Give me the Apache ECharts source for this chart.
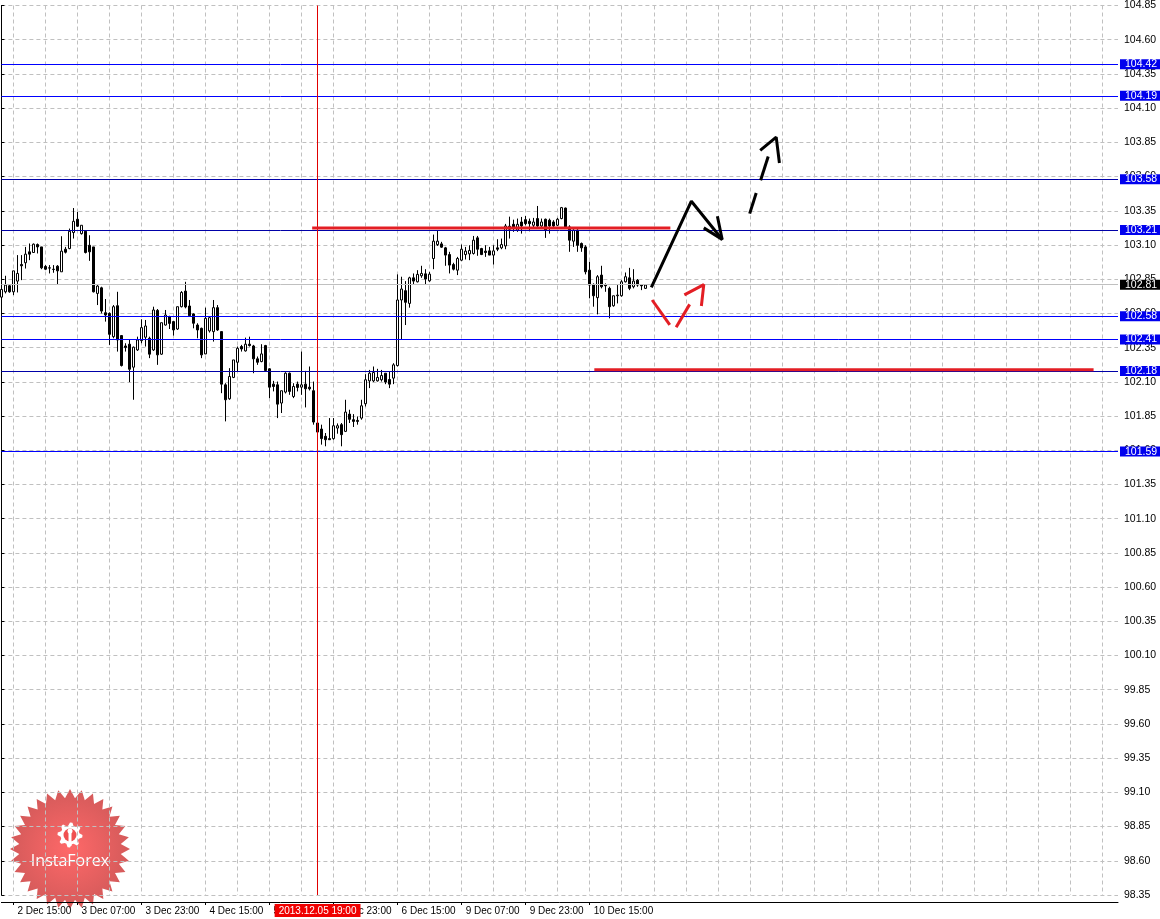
<!DOCTYPE html>
<html>
<head>
<meta charset="utf-8">
<title>USDJPY H1</title>
<script src="https://cdn.jsdelivr.net/npm/echarts@6/dist/echarts.min.js"></script>
<style>
  html, body { margin: 0; padding: 0; background: #fff; }
  #chart { width: 1160px; height: 919px; }
</style>
</head>
<body>
<div id="chart"></div>
<script>
// hourly candles, first bar is 2 Dec 2013 12:00
const opens = [
  102.719, 102.758, 102.802, 102.758, 102.836, 102.957, 102.970, 103.050, 103.045, 103.103,
  103.086, 102.943, 102.933, 102.923, 102.945, 102.904, 103.069, 103.074, 103.191, 103.288,
  103.183, 103.200, 103.098, 103.086, 102.746, 102.787, 102.605, 102.600, 102.430, 102.656,
  102.438, 102.362, 102.375, 102.207, 102.333, 102.401, 102.426, 102.418, 102.333, 102.622,
  102.302, 102.515, 102.576, 102.540, 102.486, 102.649, 102.763, 102.654, 102.596, 102.515,
  102.491, 102.304, 102.472, 102.467, 102.642, 102.467, 102.078, 101.976, 102.132, 102.243,
  102.358, 102.326, 102.375, 102.362, 102.268, 102.248, 102.365, 102.195, 102.083, 102.078,
  101.945, 102.025, 102.163, 101.993, 102.083, 102.061, 102.083, 102.061, 102.035, 101.799,
  101.755, 101.702, 101.685, 101.685, 101.762, 101.787, 101.738, 101.864, 101.823, 101.818,
  101.835, 101.940, 102.107, 102.107, 102.107, 102.115, 102.163, 102.117, 102.127, 102.219,
  102.698, 102.766, 102.673, 102.860, 102.831, 102.875, 102.889, 102.838, 103.001, 103.103,
  103.108, 103.079, 103.030, 102.957, 102.916, 102.989, 103.030, 103.035, 103.038, 103.152,
  103.074, 103.055, 103.057, 103.026, 103.079, 103.079, 103.093, 103.237, 103.251, 103.208,
  103.268, 103.285, 103.273, 103.244, 103.293, 103.239, 103.288, 103.281, 103.268, 103.244,
  103.293, 103.370, 103.232, 103.128, 103.208, 103.111, 103.086, 102.916, 102.812, 102.715,
  102.880, 102.807, 102.783, 102.656, 102.729, 102.729, 102.831, 102.860, 102.795, 102.843,
  102.807, 102.783
];
const closes = [
  102.775, 102.807, 102.758, 102.911, 102.892, 102.948, 103.033, 103.033, 103.106, 103.086,
  102.933, 102.923, 102.931, 102.921, 102.911, 103.055, 103.047, 103.200, 103.273, 103.237,
  103.244, 103.045, 103.050, 102.758, 102.800, 102.617, 102.588, 102.447, 102.649, 102.406,
  102.219, 102.350, 102.192, 102.353, 102.406, 102.496, 102.508, 102.302, 102.625, 102.297,
  102.532, 102.588, 102.527, 102.479, 102.649, 102.753, 102.647, 102.583, 102.528, 102.479,
  102.297, 102.564, 102.569, 102.642, 102.479, 102.083, 101.969, 102.139, 102.260, 102.345,
  102.340, 102.375, 102.365, 102.268, 102.243, 102.304, 102.183, 102.061, 102.066, 101.937,
  102.035, 102.163, 102.030, 102.066, 102.059, 102.078, 102.049, 102.049, 101.806, 101.733,
  101.685, 101.677, 101.677, 101.779, 101.779, 101.714, 101.879, 101.826, 101.811, 101.811,
  101.925, 102.115, 102.163, 102.168, 102.132, 102.146, 102.098, 102.083, 102.224, 102.698,
  102.778, 102.681, 102.860, 102.836, 102.885, 102.892, 102.851, 102.887, 103.128, 103.128,
  103.084, 103.026, 102.953, 102.923, 103.001, 103.069, 103.055, 103.060, 103.135, 103.069,
  103.030, 103.045, 103.026, 103.057, 103.069, 103.103, 103.239, 103.215, 103.225, 103.251,
  103.239, 103.256, 103.256, 103.268, 103.239, 103.268, 103.208, 103.239, 103.239, 103.288,
  103.373, 103.232, 103.135, 103.208, 103.098, 103.079, 102.904, 102.807, 102.729, 102.868,
  102.795, 102.802, 102.649, 102.729, 102.734, 102.831, 102.868, 102.783, 102.836, 102.807,
  102.802, 102.807
];
const lows = [
  102.637, 102.746, 102.751, 102.734, 102.753, 102.843, 102.928, 102.989, 103.042, 103.038,
  102.923, 102.916, 102.892, 102.897, 102.812, 102.904, 103.038, 103.069, 103.147, 103.232,
  103.176, 103.038, 102.984, 102.753, 102.661, 102.600, 102.540, 102.370, 102.418, 102.321,
  102.212, 102.321, 102.098, 101.969, 102.326, 102.382, 102.358, 102.273, 102.326, 102.224,
  102.297, 102.511, 102.486, 102.438, 102.479, 102.644, 102.637, 102.583, 102.491, 102.418,
  102.273, 102.302, 102.460, 102.394, 102.472, 102.017, 101.811, 101.969, 102.127, 102.175,
  102.321, 102.321, 102.358, 102.163, 102.224, 102.243, 102.175, 101.981, 102.030, 101.835,
  101.872, 102.015, 102.005, 101.981, 102.030, 102.005, 101.913, 102.037, 101.787, 101.617,
  101.641, 101.629, 101.677, 101.677, 101.721, 101.629, 101.733, 101.799, 101.770, 101.787,
  101.823, 101.920, 102.054, 102.098, 102.102, 102.102, 102.083, 102.054, 102.083, 102.212,
  102.406, 102.515, 102.642, 102.812, 102.826, 102.860, 102.812, 102.831, 102.923, 103.093,
  103.079, 102.948, 102.892, 102.914, 102.880, 102.982, 102.994, 102.989, 103.030, 103.021,
  103.026, 103.013, 103.026, 102.957, 103.055, 103.069, 103.069, 103.147, 103.196, 103.196,
  103.183, 103.244, 103.200, 103.220, 103.232, 103.232, 103.152, 103.183, 103.232, 103.239,
  103.288, 103.227, 103.050, 103.086, 103.050, 103.050, 102.885, 102.710, 102.649, 102.593,
  102.783, 102.758, 102.564, 102.649, 102.673, 102.722, 102.826, 102.770, 102.783, 102.795,
  102.770, 102.778
];
const highs = [
  102.807, 102.875, 102.807, 102.911, 103.026, 103.026, 103.086, 103.111, 103.111, 103.111,
  103.086, 102.953, 102.953, 102.953, 102.953, 103.164, 103.086, 103.220, 103.370, 103.341,
  103.244, 103.208, 103.171, 103.086, 102.807, 102.795, 102.705, 102.608, 102.661, 102.758,
  102.442, 102.382, 102.406, 102.358, 102.430, 102.557, 102.552, 102.430, 102.649, 102.632,
  102.532, 102.625, 102.583, 102.545, 102.649, 102.763, 102.831, 102.698, 102.600, 102.528,
  102.496, 102.642, 102.574, 102.698, 102.661, 102.467, 102.090, 102.200, 102.260, 102.358,
  102.370, 102.423, 102.430, 102.370, 102.285, 102.375, 102.370, 102.200, 102.107, 102.102,
  102.035, 102.170, 102.168, 102.090, 102.102, 102.321, 102.180, 102.212, 102.102, 101.877,
  101.787, 101.726, 101.835, 101.835, 101.796, 101.799, 101.969, 101.896, 101.864, 101.847,
  101.969, 102.156, 102.187, 102.212, 102.195, 102.187, 102.163, 102.175, 102.236, 102.885,
  102.868, 102.836, 102.868, 102.892, 102.916, 102.948, 102.923, 102.904, 103.176, 103.208,
  103.123, 103.086, 103.050, 102.970, 103.013, 103.103, 103.086, 103.098, 103.166, 103.166,
  103.079, 103.098, 103.086, 103.098, 103.142, 103.147, 103.254, 103.307, 103.285, 103.293,
  103.305, 103.312, 103.293, 103.298, 103.385, 103.293, 103.293, 103.293, 103.281, 103.298,
  103.378, 103.373, 103.244, 103.215, 103.215, 103.118, 103.098, 102.977, 102.819, 102.880,
  102.948, 102.819, 102.795, 102.729, 102.807, 102.843, 102.899, 102.933, 102.923, 102.851,
  102.812, 102.812
];

// horizontal levels drawn on the chart
const levels = [104.42, 104.19, 103.58, 103.21, 102.58, 102.41, 102.18, 101.59];
const levelColors = ['#0000ff', '#0000ff', '#0000a8', '#0000a8', '#0000ff', '#0000ff', '#0000a8', '#0000ff'];
const bidPrice = 102.81;
const cursorBar = 79;
const cursorLabel = '2013.12.05 19:00';

// price axis ticks
const yMin = 98.35;
const yMax = 104.85;
const yStep = 0.25;

// hand drawn marks, [bar index, price]
const redResistance = [[77.65, 103.225], [167.15, 103.225]];
const redSupport = [[148.15, 102.188], [272.9, 102.188]];
const blackUpMove = [[162.4, 102.79], [172.4, 103.42], [180.1, 103.14]];
const blackUpHead = [[175.5, 103.225], [180.1, 103.14], [178.9, 103.31]];
const blackDash1 = [[186.97, 103.329], [188.6, 103.48]];
const blackDash2 = [[189.7, 103.573], [191.6, 103.747]];
const blackDashHead = [[189.6, 103.791], [193.6, 103.888], [194.4, 103.699]];
const redDash1 = [[162.6, 102.698], [167.0, 102.516]];
const redDash2 = [[168.6, 102.498], [171.97, 102.666]];
const redHead = [[170.65, 102.735], [175.5, 102.81], [174.9, 102.654]];

// time axis: one slot per trading hour, empty slots to the right
const totalSlots = 280;
const months = ['Jan', 'Feb', 'Mar', 'Apr', 'May', 'Jun', 'Jul', 'Aug', 'Sep', 'Oct', 'Nov', 'Dec'];
const categories = [];
let t = Date.UTC(2013, 11, 2, 12);
while (categories.length < totalSlots) {
  const d = new Date(t);
  const wd = d.getUTCDay();
  if (wd !== 0 && wd !== 6) {
    categories.push(d.getUTCDate() + ' ' + months[d.getUTCMonth()] + ' ' +
      String(d.getUTCHours()).padStart(2, '0') + ':00');
  }
  t += 3600000;
}

// time labels only under real bars, grid every 8 slots
const labelEvery = (i) => i < opens.length && (i - 3) % 16 === 0;
const gridEvery = (i) => (i - 3) % 8 === 0;
const gridLine = { color: '#c0c0c0', type: [4, 3], width: 1 };
const axisFont = '"Liberation Sans Narrow", "Liberation Sans"';

function stroke(points, color, width) {
  return {
    type: 'line',
    xAxisIndex: 1,
    data: points,
    symbol: 'none',
    silent: true,
    z: 5,
    lineStyle: { color: color, width: width, cap: 'butt' }
  };
}

// logo badge
const star = [];
for (let k = 0; k < 64; k++) {
  const r = k % 2 ? 51 : 60;
  const a = Math.PI * k / 32 - Math.PI / 2;
  star.push([70 + r * Math.cos(a), 849 + r * Math.sin(a)]);
}
const gear = [];
for (let k = 0; k < 32; k++) {
  const r = (k % 4 < 2) ? 12.5 : 9.5;
  const a = Math.PI * 2 * k / 32;
  gear.push([70 + r * Math.cos(a), 835 + r * Math.sin(a)]);
}

const chart = echarts.init(document.getElementById('chart'));
chart.setOption({
  animation: false,
  backgroundColor: '#fff',
  textStyle: { fontFamily: axisFont },
  grid: { left: 1.4, right: 42, top: 3, bottom: 24 },
  xAxis: [
    {
      type: 'category',
      data: categories,
      boundaryGap: false,
      offset: 7,
      axisLine: { lineStyle: { color: '#000', width: 1 } },
      axisTick: { interval: labelEvery, length: 3, lineStyle: { color: '#000' } },
      axisLabel: {
        interval: labelEvery, align: 'left', padding: [0, 0, 0, 4],
        color: '#000', fontSize: 10, fontFamily: axisFont, margin: 4
      },
      splitLine: { show: true, interval: gridEvery, lineStyle: gridLine }
    },
    { type: 'value', min: 0, max: totalSlots - 1, show: false }
  ],
  yAxis: {
    type: 'value',
    position: 'right',
    min: yMin,
    max: yMax,
    interval: yStep,
    axisLine: { show: true, lineStyle: { color: '#000' } },
    axisTick: { show: true, length: 3, lineStyle: { color: '#000' } },
    axisLabel: {
      color: '#000', fontSize: 10.5, fontFamily: axisFont, margin: 6,
      formatter: (v) => v.toFixed(2)
    },
    splitLine: { lineStyle: gridLine }
  },
  series: [
    {
      type: 'candlestick',
      data: opens.map((o, i) => [o, closes[i], lows[i], highs[i]]),
      barWidth: 3,
      itemStyle: {
        color: '#fff', color0: '#000',
        borderColor: '#000', borderColor0: '#000', borderWidth: 1
      },
      markLine: {
        silent: true,
        symbol: 'none',
        animation: false,
        label: {
          position: 'end', distance: 2, color: '#fff', backgroundColor: '#0000ee',
          fontSize: 10.5, fontFamily: axisFont, lineHeight: 10, padding: [0, 5, 0, 5],
          formatter: (p) => Number(p.value).toFixed(2)
        },
        lineStyle: { type: 'solid', width: 1 },
        data: levels.map((v, k) => ({ yAxis: v, lineStyle: { color: levelColors[k] } })).concat([
          {
            yAxis: bidPrice,
            lineStyle: { color: '#c0c0c0' },
            label: { backgroundColor: '#000' }
          },
          {
            xAxis: categories[cursorBar],
            lineStyle: { color: '#e00000' },
            label: {
              position: 'start', distance: 9, formatter: cursorLabel,
              backgroundColor: '#f00000', padding: [2, 4, 1, 4], lineHeight: 10, fontSize: 10
            }
          }
        ])
      }
    },
    stroke(redResistance, '#e31e24', 3),
    stroke(redSupport, '#e31e24', 3),
    stroke(blackUpMove, '#000', 3),
    stroke(blackUpHead, '#000', 3),
    stroke(blackDash1, '#000', 3),
    stroke(blackDash2, '#000', 3),
    stroke(blackDashHead, '#000', 3),
    stroke(redDash1, '#e31e24', 3),
    stroke(redDash2, '#e31e24', 3),
    stroke(redHead, '#e31e24', 3)
  ],
  graphic: [
    {
      type: 'group',
      z: 20,
      children: [
        {
          type: 'polygon',
          shape: { points: star },
          style: {
            opacity: 0.88,
            fill: new echarts.graphic.RadialGradient(0.5, 0.5, 0.5, [
              { offset: 0, color: '#ff5454' },
              { offset: 1, color: '#cf4444' }
            ])
          }
        },
        { type: 'polygon', shape: { points: gear }, style: { fill: '#fff' } },
        { type: 'circle', shape: { cx: 70, cy: 835, r: 6.5 }, style: { fill: '#f05050' } },
        { type: 'circle', shape: { cx: 70, cy: 831, r: 2.5 }, style: { fill: '#fff' } },
        { type: 'rect', shape: { x: 68.5, y: 832, width: 3, height: 14 }, style: { fill: '#fff' } },
        {
          type: 'text',
          x: 70, y: 861,
          style: {
            text: 'InstaForex', fill: '#fff', font: '16px "Open Sans"',
            textAlign: 'center', textVerticalAlign: 'middle'
          }
        }
      ]
    }
  ]
});
</script>
</body>
</html>
